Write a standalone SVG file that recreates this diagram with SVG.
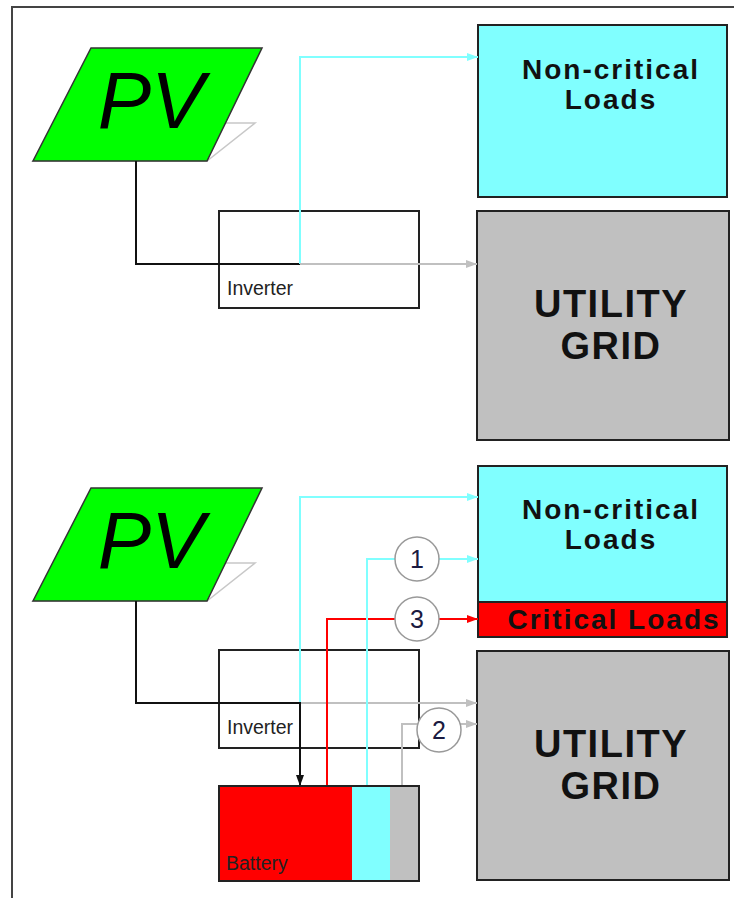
<svg xmlns="http://www.w3.org/2000/svg" width="734" height="898" viewBox="0 0 734 898">
<style>
.box{stroke:#222;stroke-width:2}
.pv{fill:#00ff00;stroke:#333;stroke-width:1.5}
.shadow{fill:#fff;stroke:#c8c8c8;stroke-width:1.5}
.pvt{font-family:"Liberation Sans",Arial,sans-serif;font-style:italic;font-size:80px;fill:#000}
.lbl{font-family:"Liberation Sans",Arial,sans-serif;font-weight:bold;font-size:28px;letter-spacing:2px;fill:#111;text-anchor:middle}
.grid{font-family:"Liberation Sans",Arial,sans-serif;font-weight:bold;font-size:38px;letter-spacing:1.5px;fill:#111;text-anchor:middle}
.small{font-family:"Liberation Sans",Arial,sans-serif;font-size:19.5px;fill:#222}
.num{font-family:"Liberation Sans",Arial,sans-serif;font-size:25px;fill:#1a1a40;text-anchor:middle}
.circ{fill:#fff;stroke:#999;stroke-width:1.5}
.w{fill:none;stroke-width:2}
.k{stroke:#111}
.c{stroke:#80ffff}
.g{stroke:#c0c0c0}
.r{stroke:#ff0000}
</style>
<defs>
<marker id="ac" markerUnits="userSpaceOnUse" markerWidth="12" markerHeight="10" refX="11" refY="5" orient="auto"><path d="M0,1 L11,5 L0,9 Z" fill="#80ffff"/></marker>
<marker id="ag" markerUnits="userSpaceOnUse" markerWidth="12" markerHeight="10" refX="11" refY="5" orient="auto"><path d="M0,1 L11,5 L0,9 Z" fill="#c0c0c0"/></marker>
<marker id="ar" markerUnits="userSpaceOnUse" markerWidth="12" markerHeight="10" refX="11" refY="5" orient="auto"><path d="M0,1 L11,5 L0,9 Z" fill="#ff0000"/></marker>
<marker id="ak" markerUnits="userSpaceOnUse" markerWidth="12" markerHeight="10" refX="11" refY="5" orient="auto"><path d="M0,1 L11,5 L0,9 Z" fill="#111"/></marker>
</defs>
<rect width="734" height="898" fill="#fff"/>
<path d="M12,898 V7 H734" fill="none" stroke="#444" stroke-width="2"/>

<!-- Top section -->
<g id="pv1">
<polygon class="shadow" points="80,123 255,123 207,161 33,161"/>
<polygon class="pv" points="91,48 262,48 207,161 33,161"/>
<text class="pvt" x="151" y="128" text-anchor="middle">PV</text>
</g>
<g id="inverter1">
<rect class="box" x="219" y="211" width="200" height="97" fill="#fff"/>
<text class="small" x="227" y="295">Inverter</text>
</g>
<g id="noncritical1">
<rect class="box" x="478" y="25" width="249" height="172" fill="#80ffff"/>
<text class="lbl" x="611" y="79">Non-critical</text>
<text class="lbl" x="611" y="109">Loads</text>
</g>
<g id="grid1">
<rect class="box" x="477" y="211" width="252" height="229" fill="#c0c0c0"/>
<text class="grid" x="611" y="317">UTILITY</text>
<text class="grid" x="611" y="359">GRID</text>
</g>

<!-- Bottom section -->
<g id="pv2">
<polygon class="shadow" points="80,563 255,563 207,601 33,601"/>
<polygon class="pv" points="91,488 262,488 207,601 33,601"/>
<text class="pvt" x="151" y="568" text-anchor="middle">PV</text>
</g>
<g id="inverter2">
<rect class="box" x="219" y="650" width="200" height="98" fill="#fff"/>
<text class="small" x="227" y="734">Inverter</text>
</g>
<g id="noncritical2">
<rect x="478" y="466" width="249" height="136" fill="#80ffff"/>
<rect x="478" y="602" width="249" height="35" fill="#ff0000"/>
<rect class="box" x="478" y="466" width="249" height="171" fill="none"/>
<line x1="478" y1="602" x2="727" y2="602" stroke="#222" stroke-width="2"/>
<text class="lbl" x="611" y="519">Non-critical</text>
<text class="lbl" x="611" y="549">Loads</text>
</g>
<g id="critical">
<text class="lbl" x="614" y="629">Critical Loads</text>
</g>
<g id="grid2">
<rect class="box" x="477" y="651" width="252" height="229" fill="#c0c0c0"/>
<text class="grid" x="611" y="757">UTILITY</text>
<text class="grid" x="611" y="799">GRID</text>
</g>

<g id="connectors">
<!-- top -->
<path class="w k" d="M136,161 V264 H300"/>
<path class="w c" d="M300,264 V57 H478" marker-end="url(#ac)"/>
<path class="w g" d="M300,264 H477" marker-end="url(#ag)"/>
<!-- bottom -->
<path class="w c" d="M300,703 V497 H478" marker-end="url(#ac)"/>
<path class="w g" d="M300,703 H477" marker-end="url(#ag)"/>
<path class="w k" d="M136,601 V703 H300 V786" marker-end="url(#ak)"/>
<path class="w r" d="M327,786 V619 H478" marker-end="url(#ar)"/>
<path class="w c" d="M367,786 V559 H478" marker-end="url(#ac)"/>
<path class="w g" d="M402,786 V724 H477" marker-end="url(#ag)"/>
</g>

<g id="battery">
<rect x="219" y="786" width="133" height="95" fill="#ff0000"/>
<rect x="352" y="786" width="38" height="95" fill="#80ffff"/>
<rect x="390" y="786" width="29" height="95" fill="#c0c0c0"/>
<rect class="box" x="219" y="786" width="200" height="95" fill="none"/>
<text class="small" x="226" y="870" fill="#300">Battery</text>
</g>

<g id="flow1">
<circle class="circ" cx="417" cy="559" r="22"/>
<text class="num" x="417" y="568">1</text>
</g>
<g id="flow3">
<circle class="circ" cx="417" cy="619" r="22"/>
<text class="num" x="417" y="628">3</text>
</g>
<g id="flow2">
<circle class="circ" cx="439" cy="730" r="22"/>
<text class="num" x="439" y="739">2</text>
</g>
</svg>
